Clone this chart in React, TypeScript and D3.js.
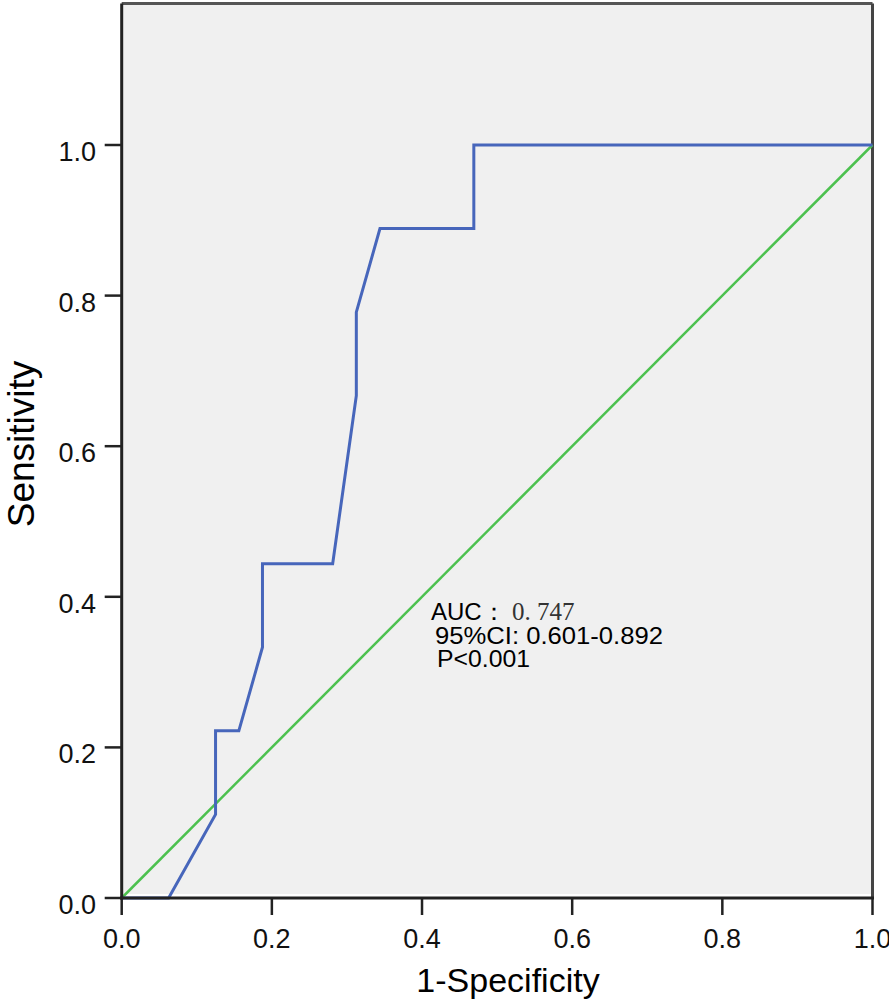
import React from "react";
import * as d3 from "d3";

// ROC curve points (1-specificity, sensitivity)
const fpr = [0, 0.0625, 0.125, 0.125, 0.156, 0.1875, 0.1875, 0.281, 0.3125, 0.3125, 0.344, 0.469, 0.469, 1];
const tpr = [0, 0, 0.111, 0.222, 0.222, 0.333, 0.444, 0.444, 0.667, 0.778, 0.889, 0.889, 1, 1];
const refLine = [0, 1];
const ticks = [0, 0.2, 0.4, 0.6, 0.8, 1.0];
const annotation = ["95%CI: 0.601-0.892", "P<0.001"];
const annotationWidths = [228, 93];

const width = 889;
const height = 1000;

export default function App() {
  const x = d3.scaleLinear().domain([0, 1]).range([121.7, 872.5]);
  const y = d3.scaleLinear().domain([0, 1]).range([898, 145]);
  const yTop = y.invert(3.5);

  const roc = fpr.map((f, i) => [f, tpr[i]] as [number, number]);
  const line = d3
    .line<[number, number]>()
    .x((d) => x(d[0]))
    .y((d) => y(d[1]));

  const sans = "'Liberation Sans', Arial, sans-serif";

  return (
    <svg
      width={width}
      height={height}
      style={{ position: "absolute", left: 0, top: 0, background: "#fff" }}
    >
      {/* plot background */}
      <rect x={x(0)} y={y(yTop)} width={x(1) - x(0)} height={y(0) - 4 - y(yTop)} fill="#f0f0f0" />
      {/* frame top and right */}
      <line x1={x(0)} x2={x(1)} y1={y(yTop)} y2={y(yTop)} stroke="#555" strokeWidth={3} />
      <line x1={x(1)} x2={x(1)} y1={y(yTop)} y2={y(0)} stroke="#444" strokeWidth={3} />

      {/* reference diagonal */}
      <line
        x1={x(refLine[0])}
        y1={y(refLine[0])}
        x2={x(refLine[1])}
        y2={y(refLine[1])}
        stroke="#4cc14f"
        strokeWidth={2.5}
      />
      {/* ROC curve */}
      <path d={line(roc) || ""} fill="none" stroke="#4766bb" strokeWidth={3} strokeLinejoin="miter" />

      {/* axes */}
      <line x1={x(0)} x2={x(0)} y1={y(yTop)} y2={y(0) + 1.5} stroke="#222" strokeWidth={3} />
      <line x1={x(0) - 1.5} x2={x(1) + 1.5} y1={y(0)} y2={y(0)} stroke="#222" strokeWidth={3} />

      {ticks.map((t) => (
        <g key={"x" + t}>
          <line x1={x(t)} x2={x(t)} y1={y(0)} y2={y(0) + 17} stroke="#222" strokeWidth={2.5} />
          <text x={x(t)} y={948} textAnchor="middle" fontFamily={sans} fontSize={27} fill="#111">
            {t.toFixed(1)}
          </text>
        </g>
      ))}
      {ticks.map((t) => (
        <g key={"y" + t}>
          <line x1={x(0) - 17} x2={x(0)} y1={y(t)} y2={y(t)} stroke="#222" strokeWidth={2.5} />
          <text x={96} y={y(t) + 16} textAnchor="end" fontFamily={sans} fontSize={27} fill="#111">
            {t.toFixed(1)}
          </text>
        </g>
      ))}

      {/* axis titles */}
      <text x={508} y={992} textAnchor="middle" fontFamily={sans} fontSize={34} fill="#000">
        1-Specificity
      </text>
      <text
        transform={`translate(34,${444}) rotate(-90)`}
        textAnchor="middle"
        fontFamily={sans}
        fontSize={37}
        fill="#000"
      >
        Sensitivity
      </text>

      {/* annotation */}
      <text x={431} y={620} fontFamily={sans} fontSize={24} fill="#000">
        AUC：
        <tspan x={512} fontSize={25} fontFamily="'Liberation Serif', 'DejaVu Serif', serif" fill="#333">
          0. 747
        </tspan>
      </text>
      {annotation.map((s, i) => (
        <text
          key={s}
          x={435 + i * 2}
          y={644 + i * 23}
          fontFamily={sans}
          fontSize={24}
          fill="#000"
          textLength={annotationWidths[i]}
          lengthAdjust="spacingAndGlyphs"
        >
          {s}
        </text>
      ))}
    </svg>
  );
}
